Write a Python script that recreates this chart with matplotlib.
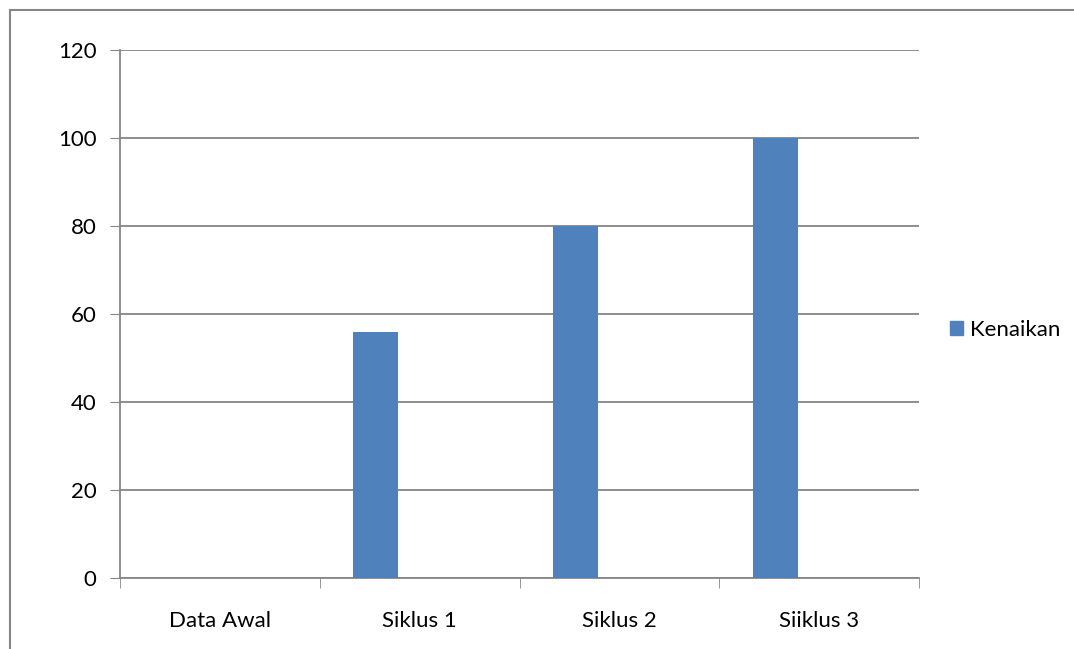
import matplotlib.pyplot as plt
from matplotlib.patches import Rectangle, Patch

categories = ["Data Awal", "Siklus 1", "Siklus 2", "Siiklus 3"]
values = [0, 56, 80, 100]
yticks = [0, 20, 40, 60, 80, 100, 120]

W, H = 1074, 649
fig = plt.figure(figsize=(W / 100, H / 100), dpi=100)
plt.rcParams['font.family'] = ['Lato', 'DejaVu Sans']

# outer chart border (runs off right/bottom edge)
fig.patches.append(Rectangle((10 / W, -0.1), 1.2, 1 - 10 / H + 0.1,
                             transform=fig.transFigure, fill=False,
                             edgecolor="#868686", linewidth=1.5))

ax = fig.add_axes([120 / W, 1 - 578 / H, (919 - 120) / W, (578 - 50) / H])
x = range(len(categories))
ax.bar([i - 0.22 for i in x], values, width=0.225, color="#4F81BD", zorder=3)

ax.set_xlim(-0.5, len(categories) - 0.5)
ax.set_ylim(0, 120)
ax.set_yticks(yticks)
ax.set_yticklabels([str(v) for v in yticks], fontsize=16)
ax.set_xticks(list(x))
ax.set_xticklabels(categories, fontsize=16)
ax.tick_params(axis="x", length=0, pad=24)
ax.tick_params(axis="y", length=7, color="#868686", pad=10)
ax.set_xticks([i - 0.5 for i in range(len(categories) + 1)], minor=True)
ax.tick_params(axis="x", which="minor", length=7, color="#868686", direction="out")
ax.grid(axis="y", color="#868686", linewidth=1.3, zorder=0)

for s in ["top", "right"]:
    ax.spines[s].set_visible(False)
for s in ["left", "bottom"]:
    ax.spines[s].set_color("#868686")
    ax.spines[s].set_linewidth(1.3)

fig.legend(handles=[Patch(color="#4F81BD", label="Kenaikan")],
           loc="center left", bbox_to_anchor=(930 / W, 1 - 330 / H),
           frameon=False, fontsize=16, handlelength=0.6, handleheight=0.6,
           handletextpad=0.3)

fig.savefig("out.png", dpi=100, facecolor="white")
